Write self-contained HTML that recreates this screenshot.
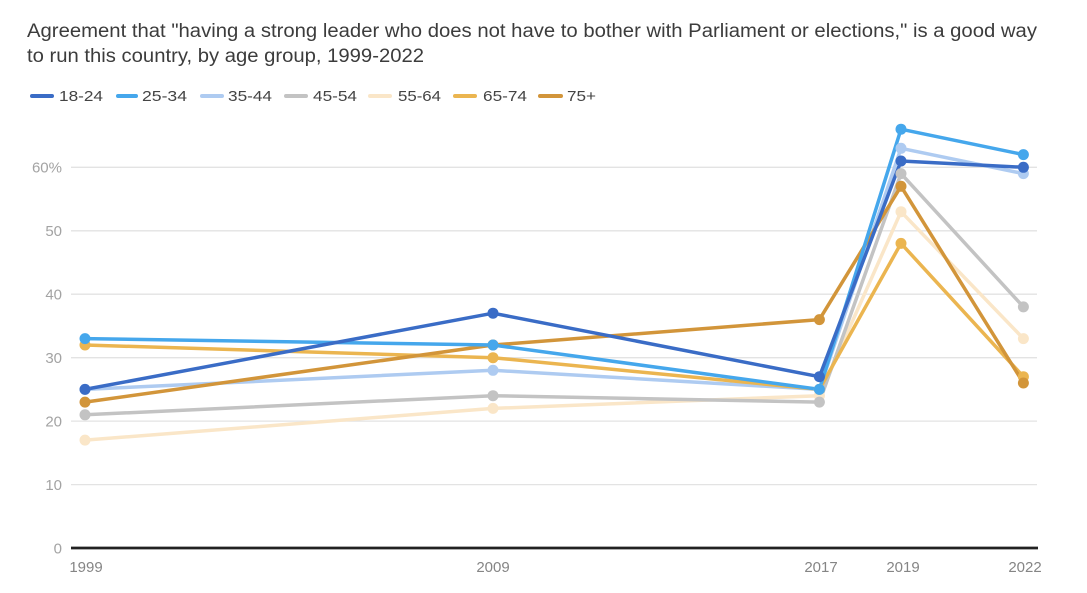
<!DOCTYPE html>
<html>
<head>
<meta charset="utf-8">
<style>
  html,body{margin:0;padding:0;background:#fff;}
  body{width:1087px;height:593px;overflow:hidden;}
  svg{display:block;font-family:"Liberation Sans",Arial,sans-serif;}
</style>
</head>
<body>
<svg width="1087" height="593" viewBox="0 0 1087 593" xmlns="http://www.w3.org/2000/svg">
  <rect width="1087" height="593" fill="#fff"/>
  <!-- Title -->
  <text x="27" y="37" font-size="19" fill="#3c3c3c" textLength="1010" lengthAdjust="spacingAndGlyphs">Agreement that "having a strong leader who does not have to bother with Parliament or elections," is a good way</text>
  <text x="27" y="62" font-size="19" fill="#3c3c3c" textLength="397" lengthAdjust="spacingAndGlyphs">to run this country, by age group, 1999-2022</text>

  <!-- Legend -->
  <g stroke-width="4" stroke-linecap="round">
    <line x1="32" y1="96" x2="52" y2="96" stroke="#3a6cc6"/>
    <line x1="118" y1="96" x2="136" y2="96" stroke="#45a7ec"/>
    <line x1="202" y1="96" x2="222" y2="96" stroke="#aecbf1"/>
    <line x1="286" y1="96" x2="306" y2="96" stroke="#c3c3c3"/>
    <line x1="370" y1="96" x2="390" y2="96" stroke="#fae6c8"/>
    <line x1="455" y1="96" x2="475" y2="96" stroke="#ebb550"/>
    <line x1="540" y1="96" x2="561" y2="96" stroke="#d2953a"/>
  </g>
  <g font-size="15" fill="#444">
    <text x="59" y="101" textLength="44" lengthAdjust="spacingAndGlyphs">18-24</text>
    <text x="142" y="101" textLength="45" lengthAdjust="spacingAndGlyphs">25-34</text>
    <text x="228" y="101" textLength="44" lengthAdjust="spacingAndGlyphs">35-44</text>
    <text x="313" y="101" textLength="44" lengthAdjust="spacingAndGlyphs">45-54</text>
    <text x="398" y="101" textLength="43" lengthAdjust="spacingAndGlyphs">55-64</text>
    <text x="483" y="101" textLength="44" lengthAdjust="spacingAndGlyphs">65-74</text>
    <text x="567" y="101" textLength="29" lengthAdjust="spacingAndGlyphs">75+</text>
  </g>

  <!-- Gridlines -->
  <g stroke="#e3e3e3" stroke-width="1.3">
    <line x1="71" y1="167.3" x2="1037" y2="167.3"/>
    <line x1="71" y1="230.8" x2="1037" y2="230.8"/>
    <line x1="71" y1="294.2" x2="1037" y2="294.2"/>
    <line x1="71" y1="357.7" x2="1037" y2="357.7"/>
    <line x1="71" y1="421.1" x2="1037" y2="421.1"/>
    <line x1="71" y1="484.6" x2="1037" y2="484.6"/>
  </g>

  <!-- Y labels -->
  <g font-size="15" fill="#a3a3a3" text-anchor="end">
    <text x="62" y="172.5">60%</text>
    <text x="62" y="236">50</text>
    <text x="62" y="299.5">40</text>
    <text x="62" y="363">30</text>
    <text x="62" y="426.5">20</text>
    <text x="62" y="490">10</text>
    <text x="62" y="553.5">0</text>
  </g>

  <!-- X labels -->
  <g font-size="15" fill="#858585" text-anchor="middle">
    <text x="86" y="572">1999</text>
    <text x="493" y="572">2009</text>
    <text x="821" y="572">2017</text>
    <text x="903" y="572">2019</text>
    <text x="1025" y="572">2022</text>
  </g>

  <!-- Series lines -->
  <g fill="none" stroke-width="3.5" stroke-linejoin="round" stroke-linecap="round">
    <polyline stroke="#fae6c8" points="85,440.1 493,408.4 819.4,395.7 901,211.7 1023.4,338.6"/>
    <polyline stroke="#c3c3c3" points="85,414.8 493,395.7 819.4,402.1 901,173.6 1023.4,306.9"/>
    <polyline stroke="#aecbf1" points="85,389.4 493,370.3 819.4,389.4 901,148.3 1023.4,173.6"/>
    <polyline stroke="#ebb550" points="85,345.0 493,357.7 819.4,389.4 901,243.4 1023.4,376.7"/>
    <polyline stroke="#d2953a" points="85,402.1 493,345.0 819.4,319.6 901,186.3 1023.4,383.0"/>
    <polyline stroke="#45a7ec" points="85,338.6 493,345.0 819.4,389.4 901,129.2 1023.4,154.6"/>
    <polyline stroke="#3a6cc6" points="85,389.4 493,313.2 819.4,376.7 901,161.0 1023.4,167.3"/>
  </g>
  <g>
    <g fill="#fae6c8">
      <circle cx="85" cy="440.1" r="5.5"/><circle cx="493" cy="408.4" r="5.5"/><circle cx="819.4" cy="395.7" r="5.5"/><circle cx="901" cy="211.7" r="5.5"/><circle cx="1023.4" cy="338.6" r="5.5"/>
    </g>
    <g fill="#c3c3c3">
      <circle cx="85" cy="414.8" r="5.5"/><circle cx="493" cy="395.7" r="5.5"/><circle cx="819.4" cy="402.1" r="5.5"/><circle cx="901" cy="173.6" r="5.5"/><circle cx="1023.4" cy="306.9" r="5.5"/>
    </g>
    <g fill="#aecbf1">
      <circle cx="85" cy="389.4" r="5.5"/><circle cx="493" cy="370.3" r="5.5"/><circle cx="819.4" cy="389.4" r="5.5"/><circle cx="901" cy="148.3" r="5.5"/><circle cx="1023.4" cy="173.6" r="5.5"/>
    </g>
    <g fill="#ebb550">
      <circle cx="85" cy="345.0" r="5.5"/><circle cx="493" cy="357.7" r="5.5"/><circle cx="819.4" cy="389.4" r="5.5"/><circle cx="901" cy="243.4" r="5.5"/><circle cx="1023.4" cy="376.7" r="5.5"/>
    </g>
    <g fill="#d2953a">
      <circle cx="85" cy="402.1" r="5.5"/><circle cx="493" cy="345.0" r="5.5"/><circle cx="819.4" cy="319.6" r="5.5"/><circle cx="901" cy="186.3" r="5.5"/><circle cx="1023.4" cy="383.0" r="5.5"/>
    </g>
    <g fill="#45a7ec">
      <circle cx="85" cy="338.6" r="5.5"/><circle cx="493" cy="345.0" r="5.5"/><circle cx="819.4" cy="389.4" r="5.5"/><circle cx="901" cy="129.2" r="5.5"/><circle cx="1023.4" cy="154.6" r="5.5"/>
    </g>
    <g fill="#3a6cc6">
      <circle cx="85" cy="389.4" r="5.5"/><circle cx="493" cy="313.2" r="5.5"/><circle cx="819.4" cy="376.7" r="5.5"/><circle cx="901" cy="161.0" r="5.5"/><circle cx="1023.4" cy="167.3" r="5.5"/>
    </g>
  </g>

  <!-- Zero axis -->
  <line x1="71" y1="548" x2="1038" y2="548" stroke="#222" stroke-width="2.8"/>
</svg>
</body>
</html>
